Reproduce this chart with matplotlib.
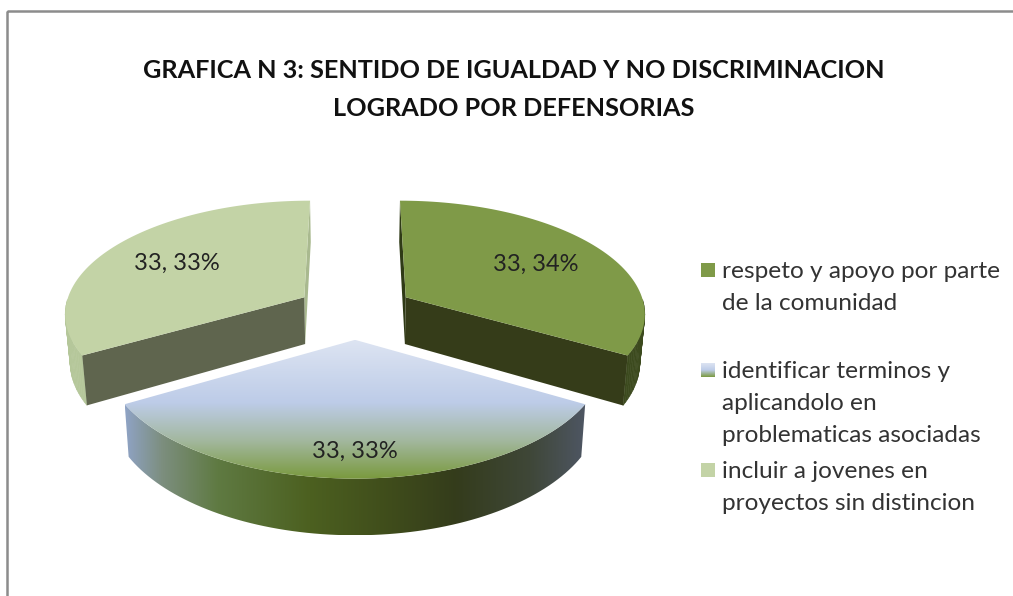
import numpy as np
import matplotlib
matplotlib.use('Agg')
import matplotlib.pyplot as plt
from matplotlib.patches import Polygon, Rectangle
from matplotlib.colors import LinearSegmentedColormap

plt.rcParams['font.family'] = ['Lato', 'DejaVu Sans']

title = 'GRAFICA N 3: SENTIDO DE IGUALDAD Y NO DISCRIMINACION\nLOGRADO POR DEFENSORIAS'
categories = ['respeto y apoyo por parte\nde la comunidad',
              'identificar terminos y\naplicandolo en\nproblematicas asociadas',
              'incluir a jovenes en\nproyectos sin distincion']
values = [33.34, 33.33, 33.33]

top_colors = ['#7F9A48', None, '#C3D3A6']
cut_colors = ['#353C19', None, '#5F654E']
rim_colors = ['#3C4A1E', None, '#B5C79A']
back_colors = ['#2F3A16', None, '#A9B98F']

# perspective of the pie, fitted on the picture
xc, yc = 355, 311
rx, ry = 240, 112.5
persp = 0.13
explode = 0.248
depth = 47.5
shrink = 0.983

fig = plt.figure(figsize=(10.13, 5.96), dpi=100)
ax = fig.add_axes([0, 0, 1, 1])


def project(u, w):
    s = 1 / (1 - persp * w)
    return xc + rx * u * s, yc + ry * w * s, s


def wedge_points(a1, a2, mid):
    # a1, a2 clockwise from the top, in degrees
    off_u = explode * np.sin(np.radians(mid))
    off_w = -explode * np.cos(np.radians(mid))
    th = np.radians(np.linspace(a1, a2, 80))
    x, y, s = project(off_u + np.sin(th), off_w - np.cos(th))
    ax0, ay0, s0 = project(off_u, off_w)
    return (x, y, s), (ax0, ay0, s0)


def lower(x, y, s):
    return xc + (x - xc) * shrink, y + depth * s


def poly(xs, ys, color, z):
    p = Polygon(np.column_stack([xs, ys]), closed=True, facecolor=color, edgecolor='none', zorder=z)
    ax.add_patch(p)
    return p


def rim_strips(x, y, bx, by, color, z):
    # one quad per arc step, only on the part of the arc that faces the viewer
    for k in range(len(x) - 1):
        if max(y[k], y[k + 1]) < yc - 10:
            continue
        ax.add_patch(Polygon([(x[k], y[k]), (x[k + 1], y[k + 1]), (bx[k + 1], by[k + 1]), (bx[k], by[k])],
                             closed=True, facecolor=color, edgecolor=color, lw=0.4, zorder=z))


def gradient(patch, box, colors, vertical, z):
    cmap = LinearSegmentedColormap.from_list('g', colors)
    g = np.linspace(0, 1, 256)
    g = g[:, None] if vertical else g[None, :]
    im = ax.imshow(g, cmap=cmap, extent=box, origin='upper', aspect='auto', zorder=z)
    im.set_clip_path(patch)


angles = np.concatenate([[0], np.cumsum(values) / sum(values) * 360])
mids = (angles[:-1] + angles[1:]) / 2

for i in [0, 2]:
    (x, y, s), (x0, y0, s0) = wedge_points(angles[i], angles[i + 1], mids[i])
    bx, by = lower(x, y, s)
    bx0, by0 = lower(x0, y0, s0)
    if i == 0:
        poly([x[0], x0, bx0, bx[0]], [y[0], y0, by0, by[0]], back_colors[i], 2)
        rim_strips(x, y, bx, by, rim_colors[i], 2)
        poly([x[-1], x0, bx0, bx[-1]], [y[-1], y0, by0, by[-1]], cut_colors[i], 3)
    else:
        poly([x[-1], x0, bx0, bx[-1]], [y[-1], y0, by0, by[-1]], back_colors[i], 2)
        rim_strips(x, y, bx, by, rim_colors[i], 2)
        poly([x[0], x0, bx0, bx[0]], [y[0], y0, by0, by[0]], cut_colors[i], 3)
    poly(np.r_[x0, x], np.r_[y0, y], top_colors[i], 4)

# front slice with its gradients
(x, y, s), (x0, y0, s0) = wedge_points(angles[1], angles[2], mids[1])
bx, by = lower(x, y, s)
rim = poly(np.r_[x, bx[::-1]], np.r_[y, by[::-1]], 'none', 5)
gradient(rim, (x.min(), x.max(), by.max(), y.min()),
         [(0, '#8FA3C4'), (0.08, '#7C8E7E'), (0.2, '#5F7A42'), (0.4, '#4C6020'), (0.58, '#3F4C1B'),
          (0.72, '#343C1C'), (0.88, '#3F4738'), (1, '#4E5663')], False, 5)
face = poly(np.r_[x0, x], np.r_[y0, y], 'none', 6)
gradient(face, (x.min(), x.max(), y.max(), y0),
         [(0, '#DDE4F2'), (0.45, '#BDCCE8'), (0.72, '#A3B8A0'), (1, '#7A9A3E')], True, 6)

# frame of the chart
ax.add_patch(Rectangle((7, 11), 1100, 700, facecolor='none', edgecolor='#8C8C8C', lw=1.8, zorder=1))

ax.text(514, 71, title.split('\n')[0], ha='center', va='center', fontsize=18.2, fontweight='bold', color='#111111', zorder=8)
ax.text(514, 109, title.split('\n')[1], ha='center', va='center', fontsize=18.2, fontweight='bold', color='#111111', zorder=8)

# value labels
label_pos = [(536, 264), (355, 451), (177, 263)]
for v, (lx, ly) in zip(values, label_pos):
    ax.text(lx, ly, f'{v:.2f}'.replace('.', ', ') + '%', ha='center', va='center', fontsize=17, color='#222222', zorder=8)

# legend
legend_y = [263, 363, 463]
for i, cat in enumerate(categories):
    if top_colors[i]:
        ax.add_patch(Rectangle((701, legend_y[i]), 14, 14, facecolor=top_colors[i], edgecolor='none', zorder=8))
    else:
        key = Rectangle((701, legend_y[i]), 14, 14, facecolor='none', edgecolor='none', zorder=8)
        ax.add_patch(key)
        gradient(key, (701, 715, legend_y[i] + 14, legend_y[i]),
                 [(0, '#DDE4F2'), (0.5, '#BDCCE8'), (1, '#7A9A3E')], True, 8)
    for j, line in enumerate(cat.split('\n')):
        ax.text(722, legend_y[i] + 8 + j * 32.5, line, ha='left', va='center', fontsize=17.6, color='#333333', zorder=8)

ax.set_xlim(0, 1013)
ax.set_ylim(596, 0)
ax.axis('off')
fig.savefig('out.png', dpi=100, facecolor='white')
